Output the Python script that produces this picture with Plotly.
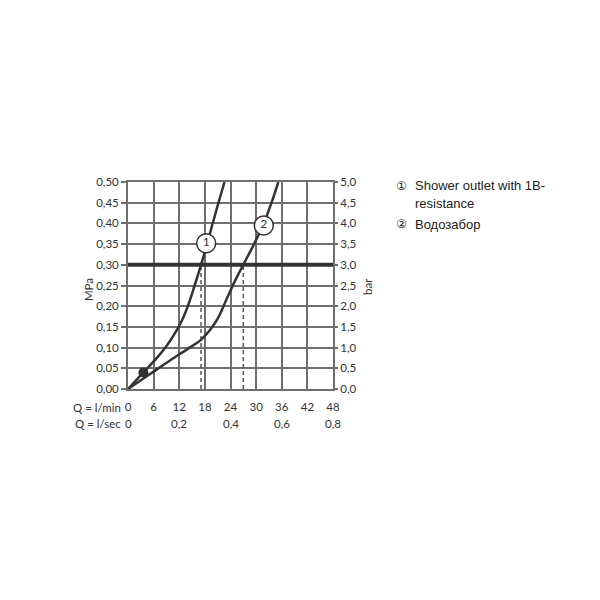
import plotly.graph_objects as go

# Data
q_lmin_ticks = [0, 6, 12, 18, 24, 30, 36, 42, 48]
q_lsec_pos = [0, 12, 24, 36, 48]
q_lsec_labels = ["0", "0,2", "0,4", "0,6", "0,8"]

curve1_q = [0, 3.6, 6.5, 9.1, 11.0, 12.6, 14.0, 15.6, 17.1, 18.5, 20.5, 22.6]
curve1_p = [0, 0.040, 0.072, 0.105, 0.135, 0.165, 0.200, 0.250, 0.300, 0.350, 0.425, 0.500]

curve2_q = [0, 5.0, 10.0, 14.0, 17.0, 19.0, 21.0, 23.0, 25.0, 27.0, 29.5, 31.8, 33.6, 35.2]
curve2_p = [0, 0.035, 0.070, 0.097, 0.118, 0.140, 0.170, 0.215, 0.260, 0.300, 0.350, 0.400, 0.450, 0.500]

dot_q, dot_p = [3.6], [0.040]
ref_pressure = 0.30
dash_q = [17.1, 27.0]
label_q = [18.3, 31.8]
label_p = [0.352, 0.395]
label_txt = ["1", "2"]

legend_lines = ["Shower outlet with 1B-", "resistance", "Водозабор"]

GRID = "#6f6f6f"
INK = "#333333"
TICKFONT = dict(family="Lato, DejaVu Sans, sans-serif", size=11.5, color=INK)

fig = go.Figure()

# dashed drop lines
for q in dash_q:
    fig.add_trace(go.Scatter(x=[q, q], y=[0, ref_pressure], mode="lines",
                             line=dict(color="#555555", width=1.5, dash="4px,3px"),
                             hoverinfo="skip", showlegend=False))

# reference line at 0.3 MPa
fig.add_trace(go.Scatter(x=[0, 48], y=[ref_pressure, ref_pressure], mode="lines",
                         line=dict(color=INK, width=4), showlegend=False))

fig.add_trace(go.Scatter(x=curve1_q, y=curve1_p, mode="lines",
                         line=dict(color=INK, width=2.5, shape="spline", smoothing=1.0),
                         showlegend=False))
fig.add_trace(go.Scatter(x=curve2_q, y=curve2_p, mode="lines",
                         line=dict(color=INK, width=2.5, shape="spline", smoothing=1.0),
                         showlegend=False))

fig.add_trace(go.Scatter(x=dot_q, y=dot_p, mode="markers",
                         marker=dict(color=INK, size=10), showlegend=False))

fig.add_trace(go.Scatter(x=label_q, y=label_p, mode="markers+text", text=label_txt,
                         textposition="middle center",
                         textfont=dict(family="Lato, DejaVu Sans, sans-serif", size=12, color=INK),
                         marker=dict(color="white", size=19, line=dict(color=INK, width=1.5)),
                         showlegend=False))

# right axis (bar) carrier
fig.add_trace(go.Scatter(x=[0], y=[0], yaxis="y2", mode="markers",
                         marker=dict(opacity=0), showlegend=False, hoverinfo="skip"))

fig.update_layout(
    width=600, height=600, autosize=False,
    margin=dict(l=128, r=267, t=182, b=211),
    plot_bgcolor="white", paper_bgcolor="white",
    separators=", ",
    xaxis=dict(range=[0, 48], tickvals=q_lmin_ticks, ticktext=[str(v) for v in q_lmin_ticks],
               showgrid=True, gridcolor=GRID, gridwidth=1.8,
               showline=True, linecolor=GRID, linewidth=1.8, mirror=True,
               zeroline=False, ticks="", ticklabelstandoff=6, tickfont=TICKFONT),
    yaxis=dict(range=[0, 0.5], dtick=0.05, tickformat=".2f",
               showgrid=True, gridcolor=GRID, gridwidth=1.8,
               showline=True, linecolor=GRID, linewidth=1.8, mirror=True,
               zeroline=False, ticks="outside", ticklen=5, tickcolor=GRID, tickwidth=1.5,
               tickfont=TICKFONT),
    yaxis2=dict(range=[0, 5], dtick=0.5, tickformat=".1f", overlaying="y", side="right",
                showgrid=False, zeroline=False, showline=False,
                ticks="outside", ticklen=4, tickcolor=GRID, tickwidth=1.5,
                tickfont=TICKFONT),
)

ann = []
ann.append(dict(text="Q = l/min", xref="paper", yref="paper", x=-0.025, y=-0.087,
                xanchor="right", yanchor="middle", showarrow=False, font=TICKFONT))
ann.append(dict(text="Q = l/sec", xref="paper", yref="paper", x=-0.025, y=-0.167,
                xanchor="right", yanchor="middle", showarrow=False, font=TICKFONT))
for q, t in zip(q_lsec_pos, q_lsec_labels):
    ann.append(dict(text=t, xref="x", yref="paper", x=q, y=-0.167,
                    xanchor="center", yanchor="middle", showarrow=False, font=TICKFONT))
ann.append(dict(text="MPa", xref="paper", yref="paper", x=-0.195, y=0.478, textangle=-90,
                xanchor="center", yanchor="middle", showarrow=False, font=TICKFONT))
ann.append(dict(text="bar", xref="paper", yref="paper", x=1.171, y=0.493, textangle=-90,
                xanchor="center", yanchor="middle", showarrow=False, font=TICKFONT))

LEGFONT = dict(family="Liberation Sans, Arial, sans-serif", size=13, color="#222222")
CIRCFONT = dict(family="DejaVu Sans, sans-serif", size=12, color="#222222")
ann.append(dict(text="①", xref="paper", yref="paper", x=1.2976, y=0.981, xanchor="left",
                yanchor="middle", showarrow=False, font=CIRCFONT))
ann.append(dict(text=legend_lines[0], xref="paper", yref="paper", x=1.39, y=0.981, xanchor="left",
                yanchor="middle", showarrow=False, font=LEGFONT))
ann.append(dict(text=legend_lines[1], xref="paper", yref="paper", x=1.39, y=0.894, xanchor="left",
                yanchor="middle", showarrow=False, font=LEGFONT))
ann.append(dict(text="②", xref="paper", yref="paper", x=1.2976, y=0.797, xanchor="left",
                yanchor="middle", showarrow=False, font=CIRCFONT))
ann.append(dict(text=legend_lines[2], xref="paper", yref="paper", x=1.39, y=0.797, xanchor="left",
                yanchor="middle", showarrow=False, font=LEGFONT))
fig.update_layout(annotations=ann)

fig.write_html("out.html")
